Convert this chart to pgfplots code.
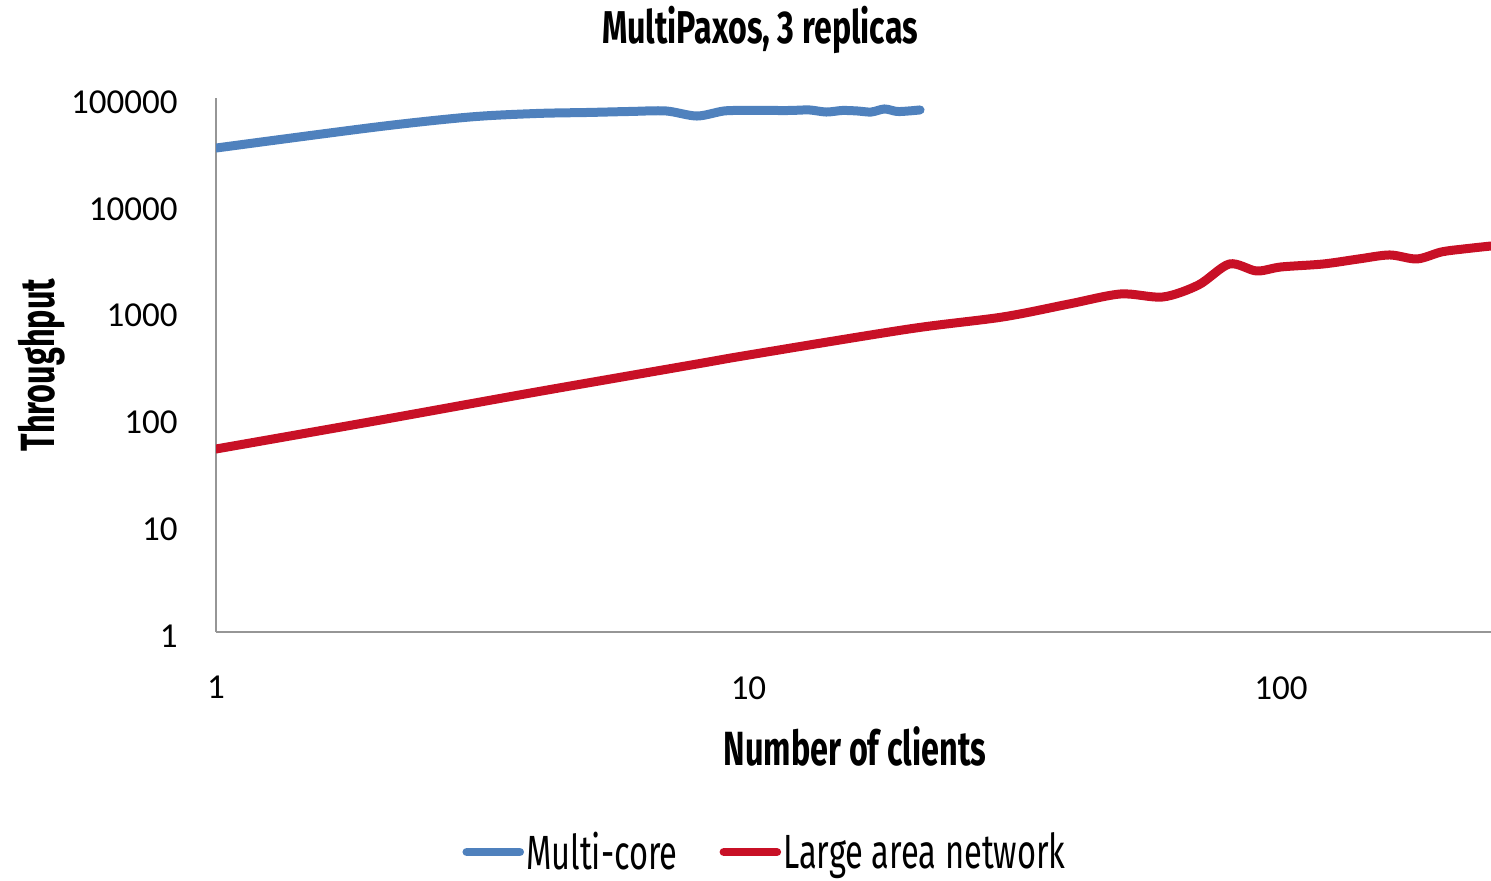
\documentclass[border=0pt]{standalone}
\usepackage{fontspec}
\usepackage{pgfplots}
\pgfplotsset{compat=1.18}
\setmainfont{Carlito}
\newfontfamily\condT{Fira Sans}[FakeStretch=0.70]
\newfontfamily\condA{Fira Sans}[FakeStretch=0.675]
\newfontfamily\condL{Fira Sans}[FakeStretch=0.68]
\definecolor{mcblue}{RGB}{79,129,189}
\definecolor{wanred}{RGB}{200,16,38}
\definecolor{axgray}{RGB}{150,150,150}

\begin{document}
\begin{tikzpicture}
\useasboundingbox (-108pt,-124.5pt) rectangle (637.5pt,316pt);
\begin{axis}[
  scale only axis,
  width=637.5pt, height=267pt,
  xmode=log, ymode=log,
  xmin=1, xmax=248, ymin=1, ymax=100000,
  axis x line=bottom, axis y line=left,
  axis line style={-, draw=axgray, line width=1pt},
  xtick={1,10,100}, ytick={1,10,100,1000,10000,100000},
  xminorticks=false, yminorticks=false, major tick length=0pt,
  log ticks with fixed point,
  /pgf/number format/1000 sep={},
  /pgf/number format/assume math mode=true,
  tick label style={font=\fontsize{17.5}{20}\selectfont, inner sep=0pt},
  yticklabel style={anchor=east, xshift=-19pt, yshift=-2pt},
  xticklabel style={anchor=north, yshift=-22pt},
  legend style={draw=none, fill=none, at={(0.4306,-0.412)}, anchor=center,
    font=\condL\fontsize{24}{26}\selectfont,
    /tikz/every even column/.append style={column sep=20pt},
    nodes={inner sep=1pt}},
  legend columns=2,
  legend image code/.code={\draw[#1, line width=4.3pt, line cap=round] (0pt,0pt) -- (26.5pt,0pt);},
]
% Multi-core deployment
\addplot[mcblue, line width=4.5pt, line cap=round, smooth, tension=0.5] coordinates {
 (1,34000) (2,53500) (3,66400) (4,71600) (5,73200) (6,74800) (7,75600)
 (8,67800) (9,75600) (10,76400) (11,76400) (12,76400) (13,77300) (14,73900)
 (15,76400) (16,75600) (17,73900) (18,78900) (19,74800) (20,75600) (21,77300)
};
\addlegendentry{Multi-core}
% Wide-area deployment
\addplot[wanred, line width=4.5pt, line cap=round, smooth, tension=0.5] coordinates {
 (1,51.7) (2,95) (4,177) (8,323) (10,392) (20,687) (30,890) (40,1178)
 (50,1462) (60,1370) (70,1775) (80,2790) (90,2400) (100,2617) (120,2790)
 (140,3110) (160,3390) (180,3110) (200,3615) (220,3855) (248,4113)
};
\addlegendentry{Large area network}
\end{axis}
\node[anchor=base, font=\condT\bfseries\fontsize{23}{25}\selectfont] at (272pt,294pt) {MultiPaxos, 3 replicas};
\node[anchor=base, font=\condA\bfseries\fontsize{24}{26}\selectfont] at (319.5pt,-67pt) {Number of clients};
\node[anchor=center, rotate=90, font=\condA\bfseries\fontsize{24}{26}\selectfont] at (-87pt,133.5pt) {Throughput};
\end{tikzpicture}
\end{document}
